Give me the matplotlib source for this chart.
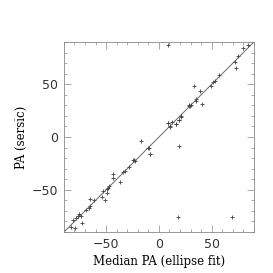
import matplotlib
matplotlib.use('Agg')
import matplotlib.pyplot as plt
from matplotlib.ticker import MultipleLocator

# median PA from ellipse fit vs. PA from sersic fit (degrees)
pa_ellipse = [-83, -79, -81.2, -78.6, -76.8, -75.8, -74.2, -73.3, -68.9, -66.3,
              -65.7, -64.8, -61.6, -53.7, -53, -50.9, -49.6, -49, -48.4, -47.4,
              -43.6, -43.6, -36.4, -34.2, -32.3, -28.5, -24.7, -24, -23, -17.4,
              -10, -9.6, -8.5, -8, 8.2, 8.5, 8.8, 10.4, 11, 12.6, 15.8, 16,
              18, 18.9, 19, 19.2, 20.5, 20.8, 28.7, 29, 29.5, 30, 33.1, 35.3,
              35.6, 38.8, 40.4, 48.9, 51.4, 52.7, 57.4, 69, 72, 72.6, 75,
              79.5, 84.5]
pa_sersic = [-85, -85.8, -78.9, -76.7, -74.4, -73.2, -74.8, -81.1, -68.8, -66.9,
             -58.7, -65.3, -59.9, -56.8, -51.4, -59.3, -53, -48.9, -48, -46.7,
             -35.3, -38.5, -42.6, -32.8, -31.9, -28.4, -21.5, -22, -22.7, -3.8,
             -10, -10.4, -16, -16.4, 13, 87.5, 13.7, 10.4, 9.6, 14.3, 12.1, 12,
             -75.8, 15.9, -8.5, 16, 20, 19.2, 29.6, 30, 29.5, 30.5, 48, 36.4,
             34.2, 43.6, 31, 48, 52.1, 53.1, 58.5, -76, 71, 65.4, 76.8,
             84.3, 86.8]

lim = [-90, 90]

fig = plt.figure(figsize=(2.73, 2.73), dpi=100)
ax = fig.add_axes([0.234, 0.150, 0.696, 0.696])

ax.plot(lim, lim, color='#666666', lw=0.7)
ax.plot(pa_ellipse, pa_sersic, '+', color='#444444', ms=3.5, mew=0.6)

ax.set_xlim(lim)
ax.set_ylim(lim)
ax.xaxis.set_major_locator(MultipleLocator(50))
ax.yaxis.set_major_locator(MultipleLocator(50))
ax.xaxis.set_minor_locator(MultipleLocator(10))
ax.yaxis.set_minor_locator(MultipleLocator(10))
ax.tick_params(which='both', direction='in', top=True, right=True,
               color='#888888', width=0.5, labelsize=9, labelcolor='#333333', pad=4)
ax.tick_params(which='major', length=5)
ax.tick_params(which='minor', length=2.5)
for s in ax.spines.values():
    s.set_color('#888888')
    s.set_linewidth(0.6)

ax.set_xlabel('Median PA (ellipse fit)', family='DejaVu Serif', fontsize=8.5, labelpad=3)
ax.set_ylabel('PA (sersic)', family='DejaVu Serif', fontsize=8.5, labelpad=3)

fig.savefig('out.png', dpi=100)
